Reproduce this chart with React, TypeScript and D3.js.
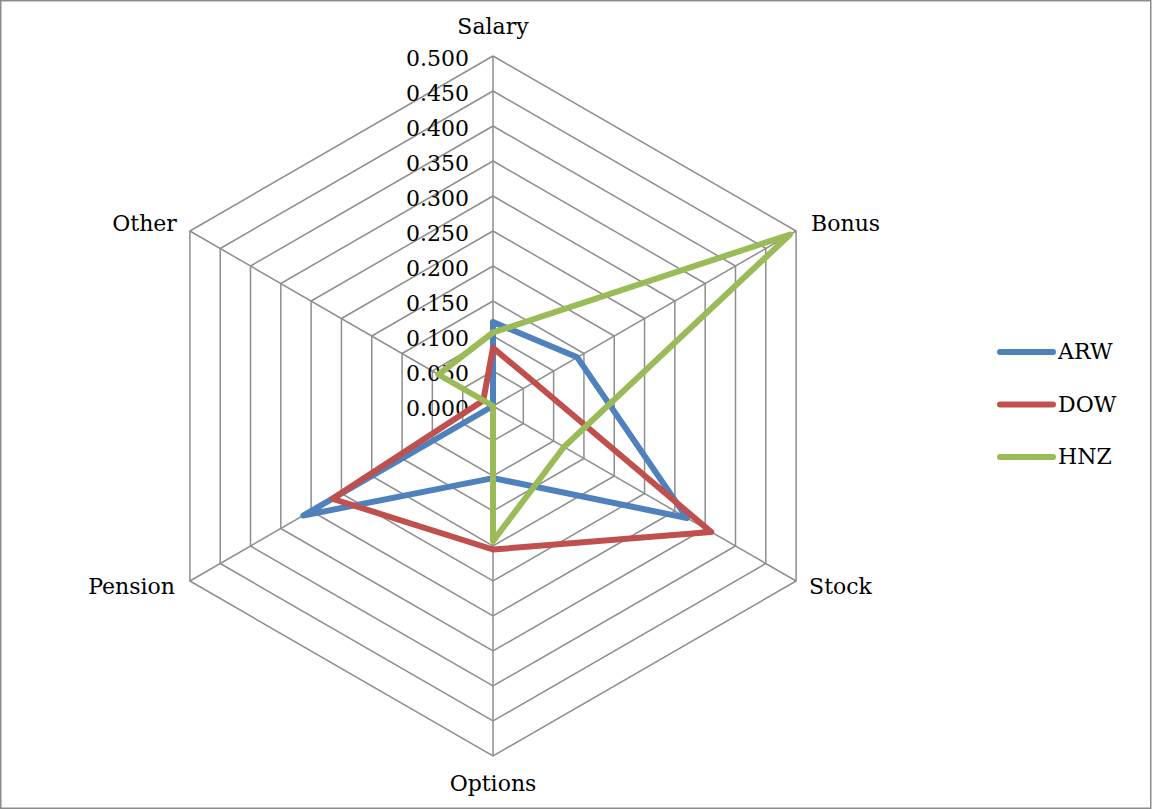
import React from "react";
import * as d3 from "d3";

const categories = ["Salary", "Bonus", "Stock", "Options", "Pension", "Other"];
const arw = [0.12, 0.139, 0.32, 0.103, 0.313, 0.0];
const dow = [0.083, 0.068, 0.36, 0.205, 0.265, 0.016];
const hnz = [0.105, 0.49, 0.117, 0.193, 0.0, 0.09];
const ticks = [0, 0.05, 0.1, 0.15, 0.2, 0.25, 0.3, 0.35, 0.4, 0.45, 0.5];

const seriesList = [
  { name: "ARW", values: arw, color: "#4F81BD" },
  { name: "DOW", values: dow, color: "#C0504D" },
  { name: "HNZ", values: hnz, color: "#9BBB59" },
];

const W = 1152;
const H = 809;
const cx = 493;
const cy = 406;
const R = 350;
const font = "'DejaVu Serif', 'Liberation Serif', serif";
const fs = 22;

export default function App() {
  const r = d3.scaleLinear().domain([0, 0.5]).range([0, R]);
  const step = (2 * Math.PI) / categories.length;
  const ang = (i: number) => i * step;
  const pt = (i: number, v: number): [number, number] => [
    cx + r(v) * Math.sin(ang(i)),
    cy - r(v) * Math.cos(ang(i)),
  ];

  const ring = (v: number) =>
    d3.line()(categories.map((_, i) => pt(i, v)).concat([pt(0, v)])) || "";

  const seriesPath = (vals: number[]) =>
    d3.line()(vals.map((v, i) => pt(i, v)).concat([pt(0, vals[0])])) || "";

  // label placement per axis: [dx, dy, anchor]
  const labelPos: [number, number, string][] = [
    [0, -28, "middle"],
    [15, -6, "start"],
    [13, 7, "start"],
    [0, 29, "middle"],
    [-15, 7, "end"],
    [-13, -6, "end"],
  ];

  return (
    <svg
      width={W}
      height={H}
      style={{ position: "absolute", left: 0, top: 0, background: "#fff" }}
    >
      <rect x={0.75} y={0.75} width={W - 2} height={H - 1.5} fill="#fff" stroke="#8c8c8c" strokeWidth={1.5} />
      <g fill="none" stroke="#8e8e8e" strokeWidth={1.5}>
        {ticks.slice(1).map((t) => (
          <path key={t} d={ring(t)} />
        ))}
        {categories.map((c, i) => {
          const [x, y] = pt(i, 0.5);
          return <line key={c} x1={cx} y1={cy} x2={x} y2={y} />;
        })}
      </g>
      <g fontFamily={font} fontSize={fs} fill="#000">
        {ticks.map((t) => (
          <text key={t} x={469} y={cy - r(t) + 10} textAnchor="end">
            {d3.format(".3f")(t)}
          </text>
        ))}
      </g>
      <g fill="none" strokeWidth={6} strokeLinejoin="round" strokeLinecap="round">
        {seriesList.map((s) => (
          <path key={s.name} d={seriesPath(s.values)} stroke={s.color} />
        ))}
      </g>
      <g fontFamily={font} fontSize={fs} fill="#000">
        {categories.map((c, i) => {
          const [x, y] = pt(i, 0.5);
          const [dx, dy, anchor] = labelPos[i];
          return (
            <text
              key={c}
              x={x + dx}
              y={y + dy}
              textAnchor={anchor as any}
              dominantBaseline="middle"
            >
              {c}
            </text>
          );
        })}
      </g>
      <g fontFamily={font} fontSize={fs} fill="#000">
        {seriesList.map((s, i) => {
          const y = 352 + i * 52.5;
          return (
            <g key={s.name}>
              <line x1={1000} x2={1053} y1={y} y2={y} stroke={s.color} strokeWidth={6} strokeLinecap="round" />
              <text x={1058} y={y + 1} dominantBaseline="middle">
                {s.name}
              </text>
            </g>
          );
        })}
      </g>
    </svg>
  );
}
